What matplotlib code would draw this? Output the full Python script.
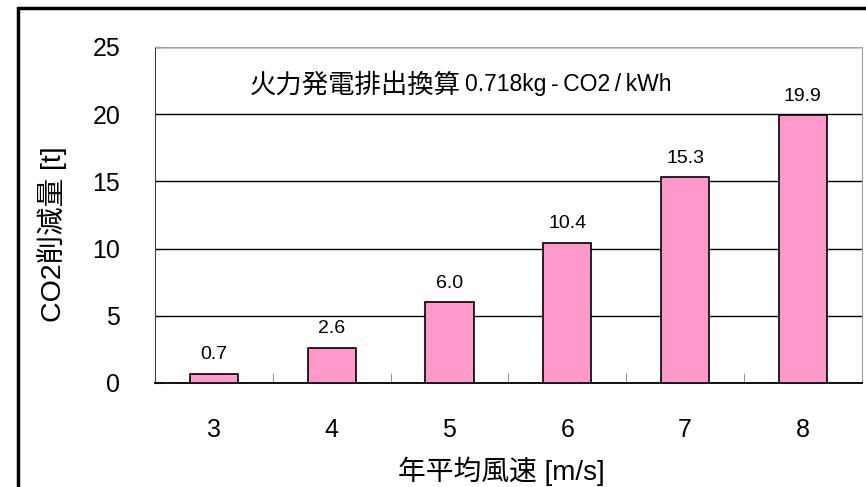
import matplotlib.pyplot as plt

plt.rcParams['font.family'] = ['Liberation Sans', 'Noto Sans CJK JP', 'DejaVu Sans']

wind_speed = ['3', '4', '5', '6', '7', '8']
co2_cut = [0.7, 2.6, 6.0, 10.4, 15.3, 19.9]
yticks = [0, 5, 10, 15, 20, 25]

fig = plt.figure(figsize=(8.66, 4.87), dpi=100)
ax = fig.add_axes([0.179, 0.2136, 0.816, 0.690])

x = range(len(wind_speed))
bars = ax.bar(x, co2_cut, width=0.41, color='#FF99CC', edgecolor='black', linewidth=1.2, zorder=3)
for b, v in zip(bars, co2_cut):
    ax.text(b.get_x() + b.get_width() / 2, v + 0.8, f'{v:.1f}', ha='center', va='bottom', fontsize=14)

ax.set_xlim(-0.5, len(wind_speed) - 0.5)
ax.set_ylim(0, 25)
ax.set_yticks(yticks)
ax.set_xticks(x)
ax.set_xticklabels(wind_speed)
ax.set_xticks([i + 0.5 for i in range(len(wind_speed) - 1)], minor=True)
ax.yaxis.grid(True, color='black', linewidth=1, zorder=0)
ax.tick_params(axis='y', labelsize=18, direction='in', length=4, pad=25)
ax.tick_params(axis='x', which='major', labelsize=18, length=0, pad=25)
ax.tick_params(axis='x', which='minor', direction='in', length=7, color='#808080')

for s in ['top', 'right']:
    ax.spines[s].set_color('#A0A0A0')
ax.spines['left'].set_color('#404040')
ax.spines['bottom'].set_linewidth(1.3)

ax.set_xlabel('年平均風速 [m/s]', fontsize=20)
ax.xaxis.set_label_coords(0.49, -0.22)
ax.set_ylabel('CO2削減量 [t]', fontsize=20.5)
ax.yaxis.set_label_coords(-0.1245, 0.443)

note1 = ax.text(0.134, 0.887, '火力発電排出換算', transform=ax.transAxes, fontsize=19,
                ha='left', va='center', family='Noto Sans CJK JP')
ax.annotate('0.718kg\u2009-\u2009CO2\u2009/\u2009kWh', xy=(1, 0.5), xycoords=note1, xytext=(3, 0),
            textcoords='offset points', fontsize=16.5, ha='left', va='center')

fig.patches.append(plt.Rectangle((0.021, -0.05), 1.0, 1.033, transform=fig.transFigure,
                                 fill=False, edgecolor='black', linewidth=2.5))

fig.savefig('out.png', dpi=100)
